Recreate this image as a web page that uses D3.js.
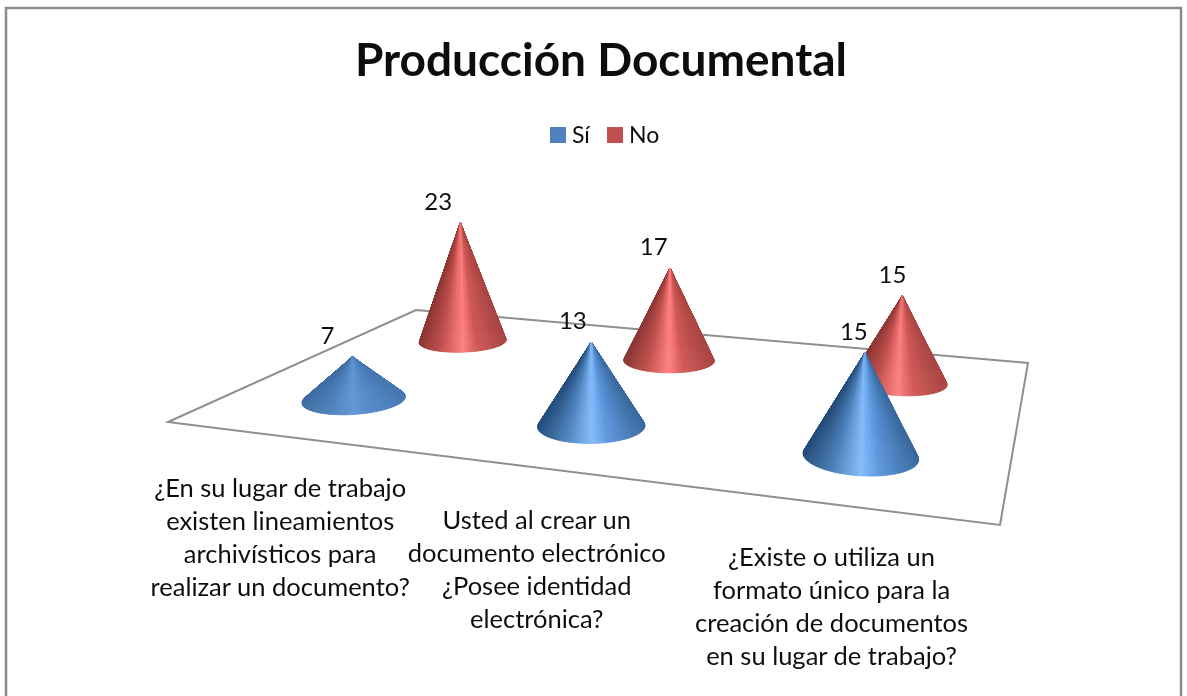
<!DOCTYPE html>
<html>
<head>
<meta charset="utf-8">
<script src="https://cdn.jsdelivr.net/npm/d3@7"></script>
<style>
html,body{margin:0;padding:0;background:#fff;overflow:hidden}
text{font-family:Lato,"Open Sans",sans-serif;fill:#111}
</style>
</head>
<body>
<div id="chart"></div>
<script>
"use strict";
const categories = [
    ["¿En su lugar de trabajo","existen lineamientos","archivísticos para","realizar un documento?"],
    ["Usted al crear un","documento electrónico","¿Posee identidad","electrónica?"],
    ["¿Existe o utiliza un","formato único para la","creación de documentos","en su lugar de trabajo?"]
];
const seriesNames = ["Sí","No"];
const siValues = [7,13,15];
const noValues = [23,17,15];
const seriesColors = ["#4f81bd","#c0504d"];
const shadeBlue = ["#264e7c","#4a7fb8","#84bcfc","#5d97de","#3a6a9e"];
const shadeRed = ["#8c3836","#c0504d","#ff8080","#cf5957","#a84644"];

const width = 1187, height = 696;
const root = d3.select("#chart").append("svg").attr("width",width).attr("height",height);
// l'image de référence est légèrement floue
root.append("defs").append("filter").attr("id","soft")
    .attr("filterUnits","userSpaceOnUse").attr("x",0).attr("y",0).attr("width",width).attr("height",height)
    .append("feGaussianBlur").attr("stdDeviation",0.45);
const svg = root.append("g").attr("filter","url(#soft)");

// cadre du graphique
svg.append("rect").attr("x",6).attr("y",8).attr("width",1175).attr("height",720)
    .attr("fill","#fff").attr("stroke","#8a8a8a").attr("stroke-width",2.5);

// titre et légende
svg.append("text").attr("x",601).attr("y",76).attr("text-anchor","middle")
    .attr("font-size",46).attr("font-weight",700).attr("fill","#000").text("Producción Documental");

const legendX = d3.scaleOrdinal().domain(seriesNames).range([550,607]);
const legend = svg.selectAll(".legend").data(seriesNames).join("g").attr("class","legend")
    .attr("transform",d=>`translate(${legendX(d)},127)`);
legend.append("rect").attr("width",16).attr("height",16).attr("fill",(d,i)=>seriesColors[i]);
legend.append("text").attr("x",22).attr("y",16).attr("font-size",23).text(d=>d);

// plancher : homographie du carré unité vers le quadrilatère
const floor = [[168,422],[1000,525],[1028,363],[416,310]];
function makeProjection(q){
    const [[x0,y0],[x1,y1],[x2,y2],[x3,y3]] = q;
    const dx1=x1-x2, dx2=x3-x2, sx=x0-x1+x2-x3;
    const dy1=y1-y2, dy2=y3-y2, sy=y0-y1+y2-y3;
    const den=dx1*dy2-dx2*dy1;
    const g=(sx*dy2-dx2*sy)/den, h=(dx1*sy-sx*dy1)/den;
    const a=x1-x0+g*x1, b=x3-x0+h*x3, d=y1-y0+g*y1, e=y3-y0+h*y3;
    const p = (u,v)=>{
        const w=g*u+h*v+1;
        return [(a*u+b*v+x0)/w,(d*u+e*v+y0)/w];
    };
    p.depth = (u,v)=>g*u+h*v+1;
    return p;
}
const project = makeProjection(floor);
const line = d3.line();

svg.append("path").attr("d",line(floor)+"Z")
    .attr("fill","#fff").attr("stroke","#8f8f8f").attr("stroke-width",2);

const uScale = d3.scaleBand().domain(d3.range(categories.length)).range([0,1]);
const vScale = d3.scalePoint().domain(seriesNames).range([0.25,0.75]);
const hScale = d3.scaleLinear().domain([0,25]).range([0,160]);
const labelDx = d3.scaleLinear().domain([350,900]).range([-25,-10]);
// les cônes plats sont moins contrastés
const contrast = d3.scaleLinear().domain([40,85]).range([0.35,1]).clamp(true);
const ru = 0.066, rv = 0.105;

const cones = [];
[noValues,siValues].forEach(vals=>{
    const name = vals===siValues ? "Sí" : "No";
    vals.forEach((value,i)=>cones.push({name,value,i,
        u:uScale(i)+uScale.bandwidth()/2, v:vScale(name)}));
});

const angles = d3.range(0,360,1.5).map(d=>d*Math.PI/180);
cones.forEach(c=>{
    const base = project(c.u,c.v);
    const h = hScale(c.value)/project.depth(c.u,c.v);
    const apex = [base[0]+(base[0]-600)*h*1.6e-4, base[1]-h];
    c.apex = apex;
    const pts = angles.map(t=>project(c.u+ru*Math.cos(t),c.v+rv*Math.sin(t)));
    const [xMin,xMax] = d3.extent(pts,p=>p[0]);
    const isSi = c.name==="Sí";
    const mix = d3.interpolateRgb(isSi ? seriesColors[0] : seriesColors[1], "#000");
    const stops = (isSi ? shadeBlue : shadeRed).map(s=>
        d3.interpolateRgb(isSi ? seriesColors[0] : seriesColors[1], s)(contrast(h)));
    const ramp = d3.scaleLinear().domain([0,.25,.5,.66,1].map(k=>xMin+k*(xMax-xMin))).range(stops);
    const slices = pts.map((p,i)=>{
        const q = pts[(i+1)%pts.length];
        return {p,q,y:(p[1]+q[1])/2,x:(p[0]+q[0])/2};
    }).sort((a,b)=>a.y-b.y);
    svg.append("g").attr("class","cone").selectAll("path").data(slices).join("path")
        .attr("d",d=>line([apex,d.p,d.q])+"Z")
        .attr("fill",d=>ramp(d.x)).attr("stroke",d=>ramp(d.x)).attr("stroke-width",0.8);
});

// étiquettes de valeurs
svg.selectAll(".val").data(cones).join("text").attr("class","val")
    .attr("x",d=>d.apex[0]+labelDx(d.apex[0])).attr("y",d=>d.apex[1]-13)
    .attr("text-anchor","middle").attr("font-size",24).text(d=>d.value);

// libellés des catégories
const catG = svg.selectAll(".cat").data(categories).join("text").attr("class","cat")
    .attr("text-anchor","middle").attr("font-size",25.5);
catG.each(function(lines,i){
    const pos = project(uScale(i)+uScale.bandwidth()/2,0);
    d3.select(this).selectAll("tspan").data(lines).join("tspan")
        .attr("x",pos[0]-4).attr("y",(d,k)=>pos[1]+61+k*33).text(d=>d);
});
</script>
</body>
</html>
